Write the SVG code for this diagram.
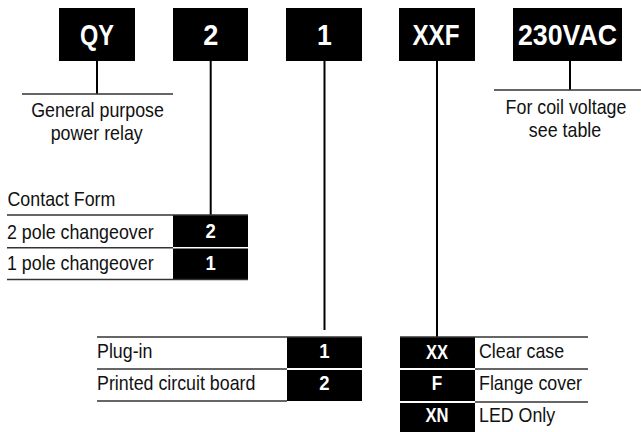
<svg xmlns="http://www.w3.org/2000/svg" width="641" height="432" viewBox="0 0 641 432">
<style>
.code{fill:#000}
.big{font-family:"Liberation Sans",Arial,sans-serif;font-weight:bold;font-size:29.5px;fill:#fff;text-anchor:middle}
.lbl{font-family:"Liberation Sans",Arial,sans-serif;font-weight:bold;font-size:19.5px;fill:#fff;text-anchor:middle}
.t{font-family:"Liberation Sans",Arial,sans-serif;font-size:19.8px;fill:#111}
.tc{font-family:"Liberation Sans",Arial,sans-serif;font-size:19.8px;fill:#111;text-anchor:middle}
.conn{stroke:#000;stroke-width:2;fill:none}
.rule{stroke:#333;stroke-width:1.5;fill:none}
</style>
<rect width="641" height="432" fill="#fff"/>

<g id="connectors">
<line class="conn" x1="97" y1="61" x2="97" y2="94"/>
<line class="conn" x1="210.7" y1="61" x2="210.7" y2="215"/>
<line class="conn" x1="324.5" y1="61" x2="324.5" y2="330"/>
<line class="conn" x1="437" y1="61" x2="437" y2="337"/>
<line class="conn" x1="570" y1="61" x2="570" y2="90"/>
</g>

<g id="node-qy">
<rect class="code" x="59" y="8" width="76" height="53"/>
<text class="big" x="97" y="44.5" textLength="34" lengthAdjust="spacingAndGlyphs">QY</text>
</g>
<g id="node-2">
<rect class="code" x="173" y="8" width="75" height="53"/>
<text class="big" transform="translate(210.7,44.5) scale(0.92,1)">2</text>
</g>
<g id="node-1">
<rect class="code" x="286" y="8" width="76" height="53"/>
<text class="big" transform="translate(324.5,44.5) scale(0.9,1)">1</text>
</g>
<g id="node-xxf">
<rect class="code" x="399" y="8" width="76" height="53"/>
<text class="big" x="436" y="44.5" textLength="47" lengthAdjust="spacingAndGlyphs">XXF</text>
</g>
<g id="node-230vac">
<rect class="code" x="513" y="8" width="109" height="53"/>
<text class="big" x="567.5" y="44.5" textLength="99" lengthAdjust="spacingAndGlyphs">230VAC</text>
</g>

<g id="desc-qy">
<line class="rule" x1="22" y1="94" x2="173" y2="94"/>
<text class="tc" transform="translate(97.5,116.5) scale(0.9,1)">General purpose</text>
<text class="tc" transform="translate(96.7,139.5) scale(0.9,1)">power relay</text>
</g>

<g id="desc-230vac">
<line class="rule" x1="494" y1="90" x2="641" y2="90"/>
<text class="tc" transform="translate(566,113.5) scale(0.9,1)">For coil voltage</text>
<text class="tc" transform="translate(565,136.5) scale(0.9,1)">see table</text>
</g>

<g id="table-contact">
<text class="t" transform="translate(7.5,206) scale(0.9,1)">Contact Form</text>
<rect class="code" x="173" y="215" width="75" height="32"/>
<rect class="code" x="173" y="248.5" width="75" height="30.5"/>
<line class="rule" x1="7" y1="215" x2="248" y2="215"/>
<line class="rule" x1="7" y1="247.8" x2="173" y2="247.8"/>
<line class="rule" x1="7" y1="279.5" x2="248" y2="279.5"/>
<text class="t" transform="translate(7,238.5) scale(0.9,1)">2 pole changeover</text>
<text class="t" transform="translate(7,270) scale(0.9,1)">1 pole changeover</text>
<text class="lbl" transform="translate(210.7,237.7) scale(0.95,1)">2</text>
<text class="lbl" transform="translate(210.7,270) scale(0.95,1)">1</text>
</g>

<g id="table-mounting">
<rect class="code" x="287" y="337" width="75" height="31"/>
<rect class="code" x="287" y="370" width="75" height="31"/>
<line class="rule" x1="97" y1="337" x2="362" y2="337"/>
<line class="rule" x1="97" y1="369" x2="287" y2="369"/>
<line class="rule" x1="97" y1="401" x2="287" y2="401"/>
<text class="t" transform="translate(97,358) scale(0.9,1)">Plug-in</text>
<text class="t" transform="translate(97,390) scale(0.9,1)">Printed circuit board</text>
<text class="lbl" transform="translate(324.5,358) scale(0.95,1)">1</text>
<text class="lbl" transform="translate(324.5,390) scale(0.95,1)">2</text>
</g>

<g id="table-options">
<rect class="code" x="400" y="337" width="75" height="31"/>
<rect class="code" x="400" y="370" width="75" height="31"/>
<rect class="code" x="400" y="403" width="75" height="29"/>
<line class="rule" x1="400" y1="337" x2="588" y2="337"/>
<line class="rule" x1="475" y1="369" x2="588" y2="369"/>
<line class="rule" x1="475" y1="402" x2="588" y2="402"/>
<text class="lbl" transform="translate(437,358.5) scale(0.85,1)">XX</text>
<text class="lbl" transform="translate(437,390.3) scale(0.88,1)">F</text>
<text class="lbl" transform="translate(437,422) scale(0.85,1)">XN</text>
<text class="t" transform="translate(479,357.5) scale(0.9,1)">Clear case</text>
<text class="t" transform="translate(479,389.5) scale(0.9,1)">Flange cover</text>
<text class="t" transform="translate(479,421.5) scale(0.9,1)">LED Only</text>
</g>
</svg>
